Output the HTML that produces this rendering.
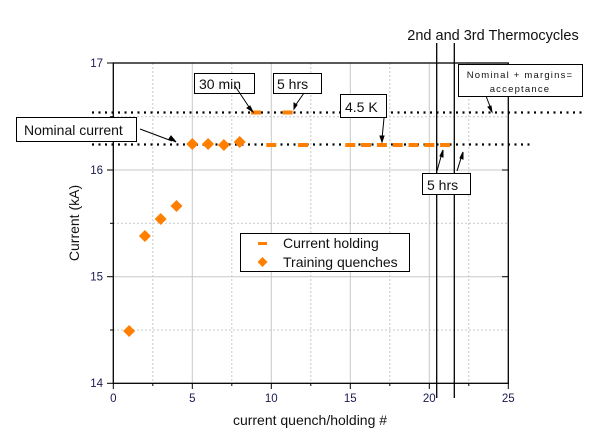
<!DOCTYPE html>
<html><head><meta charset="utf-8"><style>
html,body{margin:0;padding:0;background:#fff;}
svg{display:block;font-family:"Liberation Sans",Arial,sans-serif;}
</style></head><body>
<svg width="609" height="444" viewBox="0 0 609 444" xmlns="http://www.w3.org/2000/svg">
<rect width="609" height="444" fill="#fff"/>
<g stroke="#c8c8c8" stroke-width="1">
<line x1="192.3" y1="63" x2="192.3" y2="383"/>
<line x1="271.3" y1="63" x2="271.3" y2="383"/>
<line x1="350.3" y1="63" x2="350.3" y2="383"/>
<line x1="429.3" y1="63" x2="429.3" y2="383"/>
<line x1="113" y1="276.7" x2="508" y2="276.7"/>
<line x1="113" y1="170" x2="508" y2="170"/>
</g>
<g stroke="#c8c8c8" stroke-width="1" stroke-dasharray="2,2">
<line x1="152.8" y1="63" x2="152.8" y2="383"/>
<line x1="231.8" y1="63" x2="231.8" y2="383"/>
<line x1="310.8" y1="63" x2="310.8" y2="383"/>
<line x1="389.8" y1="63" x2="389.8" y2="383"/>
<line x1="468.8" y1="63" x2="468.8" y2="383"/>
<line x1="113" y1="330" x2="508" y2="330"/>
<line x1="113" y1="223.3" x2="508" y2="223.3"/>
<line x1="113" y1="116.7" x2="508" y2="116.7"/>
</g>
<rect x="113.3" y="63" width="395" height="320.3" fill="none" stroke="#000" stroke-width="1.3"/>
<g stroke="#000" stroke-width="1">
<line x1="113.3" y1="383" x2="113.3" y2="389"/><line x1="192.3" y1="383" x2="192.3" y2="389"/><line x1="271.3" y1="383" x2="271.3" y2="389"/><line x1="350.3" y1="383" x2="350.3" y2="389"/><line x1="429.3" y1="383" x2="429.3" y2="389"/><line x1="508.3" y1="383" x2="508.3" y2="389"/>
<line x1="152.8" y1="383" x2="152.8" y2="386"/><line x1="231.8" y1="383" x2="231.8" y2="386"/><line x1="310.8" y1="383" x2="310.8" y2="386"/><line x1="389.8" y1="383" x2="389.8" y2="386"/><line x1="468.8" y1="383" x2="468.8" y2="386"/>
<line x1="107" y1="383.3" x2="113" y2="383.3"/><line x1="107" y1="276.7" x2="113" y2="276.7"/><line x1="107" y1="170" x2="113" y2="170"/><line x1="107" y1="63" x2="113" y2="63"/>
<line x1="110" y1="330" x2="113" y2="330"/><line x1="110" y1="223.3" x2="113" y2="223.3"/><line x1="110" y1="116.7" x2="113" y2="116.7"/>
<line x1="502" y1="276.7" x2="508" y2="276.7"/><line x1="502" y1="170" x2="508" y2="170"/>
</g>
<g font-size="11.5" fill="#1a1a50">
<text x="113.3" y="402" text-anchor="middle">0</text>
<text x="192.3" y="402" text-anchor="middle">5</text>
<text x="271.3" y="402" text-anchor="middle">10</text>
<text x="350.3" y="402" text-anchor="middle">15</text>
<text x="429.3" y="402" text-anchor="middle">20</text>
<text x="508.3" y="402" text-anchor="middle">25</text>
<text x="103" y="387" text-anchor="end">14</text>
<text x="103" y="280.5" text-anchor="end">15</text>
<text x="103" y="174" text-anchor="end">16</text>
<text x="103" y="67" text-anchor="end">17</text>
</g>
<text x="310" y="425" font-size="14" text-anchor="middle" fill="#111">current quench/holding #</text>
<text transform="translate(79,223) rotate(-90)" font-size="14" text-anchor="middle" fill="#111">Current (kA)</text>
<line x1="436.7" y1="43" x2="436.7" y2="398" stroke="#000" stroke-width="1.3"/>
<line x1="454.3" y1="43" x2="454.3" y2="398" stroke="#000" stroke-width="1.3"/>
<text x="493" y="40" font-size="14.5" text-anchor="middle" fill="#111">2nd and 3rd Thermocycles</text>
<line x1="92" y1="112.5" x2="582" y2="112.5" stroke="#000" stroke-width="2.2" stroke-dasharray="2,4.5"/>
<line x1="92" y1="144.5" x2="532" y2="144.5" stroke="#000" stroke-width="2.2" stroke-dasharray="2,4.5"/>
<g fill="#ff7f00">
<rect x="251" y="110.5" width="10" height="4"/><rect x="282.6" y="110.5" width="10" height="4"/>
<rect x="266.3" y="143" width="10" height="4"/><rect x="298" y="143" width="10" height="4"/>
<rect x="345.3" y="143" width="10" height="4"/><rect x="361" y="143" width="10" height="4"/><rect x="376.9" y="143" width="10" height="4"/><rect x="392.7" y="143" width="10" height="4"/><rect x="408.5" y="143" width="10" height="4"/><rect x="424.3" y="143" width="10" height="4"/><rect x="440.1" y="143" width="10" height="4"/>
</g>
<g fill="#ff7f00">
<path d="M129.1 325 l6 6 l-6 6 l-6 -6z"/>
<path d="M144.9 230 l6 6 l-6 6 l-6 -6z"/>
<path d="M160.7 213 l6 6 l-6 6 l-6 -6z"/>
<path d="M176.5 200 l6 6 l-6 6 l-6 -6z"/>
<path d="M192.3 138 l6 6 l-6 6 l-6 -6z"/>
<path d="M208.1 138 l6 6 l-6 6 l-6 -6z"/>
<path d="M223.9 139 l6 6 l-6 6 l-6 -6z"/>
<path d="M239.7 136 l6 6 l-6 6 l-6 -6z"/>
</g>
<g fill="#fff" stroke="#000" stroke-width="1">
<rect x="194.5" y="73.5" width="60" height="20"/>
<rect x="273.5" y="73.5" width="48" height="20"/>
<rect x="340.5" y="94.5" width="46" height="23"/>
<rect x="16.5" y="117.5" width="120" height="24"/>
<rect x="422.5" y="173.5" width="48" height="21"/>
<rect x="458.5" y="64.5" width="124" height="32"/>
</g>
<g font-size="14" fill="#111">
<text x="199" y="89">30 min</text>
<text x="277" y="89">5 hrs</text>
<text x="345" y="112">4.5 K</text>
<text x="24" y="135">Nominal current</text>
<text x="427" y="190">5 hrs</text>
</g>
<g font-size="9.5" fill="#111" letter-spacing="1.2">
<text x="520" y="78" text-anchor="middle">Nominal + margins=</text>
<text x="520" y="92" text-anchor="middle">acceptance</text>
</g>
<g stroke="#000" stroke-width="1" fill="#000">
<line x1="235" y1="86" x2="251" y2="110"/><path d="M253 112 l-6 -4 l3 -2z"/>
<line x1="304" y1="93" x2="295" y2="106"/><path d="M294 109 l0 -6 l3 2z"/>
<line x1="384" y1="118" x2="382" y2="139"/><path d="M382 142 l-2 -6 l4 0z"/>
<line x1="140" y1="129" x2="172" y2="141"/><path d="M176 142 l-7 -3 l2 -3z"/>
<line x1="437" y1="171" x2="442" y2="153"/><path d="M443 150 l0 7 l-3 -1z"/>
<line x1="457" y1="171" x2="462" y2="155"/><path d="M463 152 l0 7 l-3 -1z"/>
<line x1="486" y1="96" x2="491" y2="109"/><path d="M492 112 l-4 -5 l3 -1z"/>
</g>
<rect x="240.5" y="233.5" width="169" height="38" fill="#fff" stroke="#000" stroke-width="1"/>
<rect x="258" y="242" width="9" height="3" fill="#ff7f00"/>
<path d="M262.5 257 l5 5 l-5 5 l-5 -5z" fill="#ff7f00"/>
<text x="283" y="248" font-size="14" fill="#111">Current holding</text>
<text x="283" y="267" font-size="14" fill="#111">Training quenches</text>
</svg>
</body></html>
